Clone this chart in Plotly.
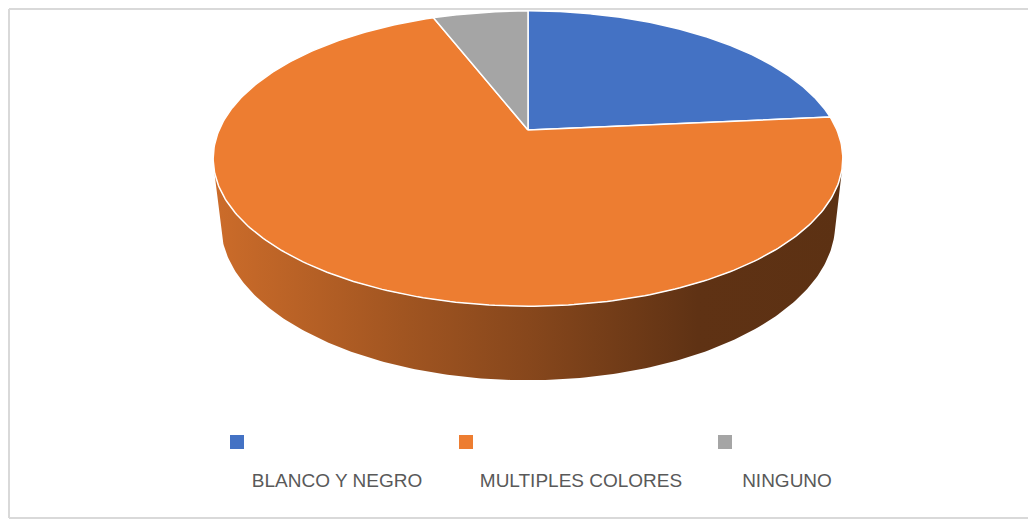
import numpy as np
import plotly.graph_objects as go

# ---- data ----
categories = ["BLANCO Y NEGRO", "MULTIPLES COLORES", "NINGUNO"]
values = [4, 12, 1]
colors = ["#4472C4", "#ED7D31", "#A5A5A5"]

# ---- layout / projection constants ----
W, H_PX = 1036, 519
OFF = 8                          # page body margin
CX, CY = 528.0, 130.0            # screen position of pie centre
FOC = 1420.0                     # focal length
DIST = 4.597                     # camera distance (pie radius = 1)
ALPHA = np.deg2rad(27.4)         # elevation
DEPTH = 0.2397                   # pie thickness
legend_sq_x = [237, 466, 725]
legend_sq_y = 442
legend_txt_x = [337, 581, 787]
legend_txt_y = 482


def proj(X, Y, Z):
    X = np.asarray(X, float); Y = np.asarray(Y, float); Z = np.asarray(Z, float)
    w = DIST + Y * np.cos(ALPHA) - Z * np.sin(ALPHA)
    sx = CX + FOC * X / w
    sy = CY - FOC * (Y * np.sin(ALPHA) + Z * np.cos(ALPHA)) / w
    return sx, sy


def hex_scale(hx, f):
    hx = hx.lstrip("#")
    r, g, b = (int(hx[i:i + 2], 16) for i in (0, 2, 4))
    return "rgb(%d,%d,%d)" % (round(r * f), round(g * f), round(b * f))


fig = go.Figure()

total = float(sum(values))
fracs = np.cumsum([0] + values) / total
angles = 2 * np.pi * fracs   # clockwise from 12 o'clock

# extents of the pie on screen (for gradient)
tt = np.linspace(0, 2 * np.pi, 721)
ex, _ = proj(np.sin(tt), np.cos(tt), np.zeros_like(tt))
xmin, xmax = ex.min(), ex.max()

# visible wall range (silhouette)
t_sil = np.arccos(-1.0 / (DIST * np.cos(ALPHA)))
wall_lo, wall_hi = t_sil, 2 * np.pi - t_sil

shade = [[0.0, 0.86], [0.3, 0.68], [0.5, 0.57], [0.77, 0.40], [1.0, 0.39]]

# side walls
for i, cat in enumerate(categories):
    a0, a1 = max(angles[i], wall_lo), min(angles[i + 1], wall_hi)
    if a1 <= a0:
        continue
    t = np.linspace(a0, a1, 200)
    xt, yt = proj(np.sin(t), np.cos(t), np.zeros_like(t))
    xb, yb = proj(np.sin(t), np.cos(t), -DEPTH * np.ones_like(t))
    xs = np.concatenate([xt, xb[::-1], xt[:1]])
    ys = np.concatenate([yt, yb[::-1], yt[:1]])
    fig.add_trace(go.Scatter(
        x=xs, y=ys, mode="lines", fill="toself",
        line=dict(width=0, color="rgba(0,0,0,0)"),
        fillgradient=dict(type="horizontal", start=xmin, stop=xmax,
                          colorscale=[[p, hex_scale(colors[i], f)] for p, f in shade]),
        hoverinfo="skip", showlegend=False))

# top face slices
for i, cat in enumerate(categories):
    t = np.linspace(angles[i], angles[i + 1], 300)
    xt, yt = proj(np.sin(t), np.cos(t), np.zeros_like(t))
    xs = np.concatenate([[CX], xt, [CX]])
    ys = np.concatenate([[CY], yt, [CY]])
    fig.add_trace(go.Scatter(
        x=xs, y=ys, mode="lines", fill="toself", fillcolor=colors[i],
        line=dict(color="white", width=1.5),
        name=cat, hoveron="fills",
        hovertemplate="%s: %d<extra></extra>" % (cat, values[i]),
        showlegend=False))

# legend: squares above, text below
fig.add_trace(go.Scatter(
    x=legend_sq_x, y=[legend_sq_y] * len(categories), mode="markers",
    marker=dict(symbol="square", size=14, color=colors, line=dict(width=0)),
    hoverinfo="skip", showlegend=False))
fig.add_trace(go.Scatter(
    x=legend_txt_x, y=[legend_txt_y] * len(categories), mode="text",
    text=categories, textposition="middle center",
    textfont=dict(family="Liberation Sans, Arial, sans-serif", size=19, color="#595959"),
    hoverinfo="skip", showlegend=False))

border = dict(color="#D9D9D9", width=2)
fig.update_layout(
    width=W - OFF, height=H_PX - OFF,
    margin=dict(l=0, r=0, t=0, b=0),
    paper_bgcolor="white", plot_bgcolor="white",
    xaxis=dict(range=[OFF, W], visible=False, fixedrange=True),
    yaxis=dict(range=[H_PX, OFF], visible=False, fixedrange=True),
    shapes=[
        dict(type="line", xref="x", yref="y", x0=OFF + 1, y0=OFF + 1, x1=W, y1=OFF + 1,
             line=border, layer="below"),
        dict(type="line", xref="x", yref="y", x0=OFF + 1, y0=OFF + 1, x1=OFF + 1, y1=518,
             line=border, layer="below"),
        dict(type="line", xref="x", yref="y", x0=OFF + 1, y0=518, x1=W, y1=518,
             line=border, layer="below"),
    ],
)

fig.write_html("out.html")
